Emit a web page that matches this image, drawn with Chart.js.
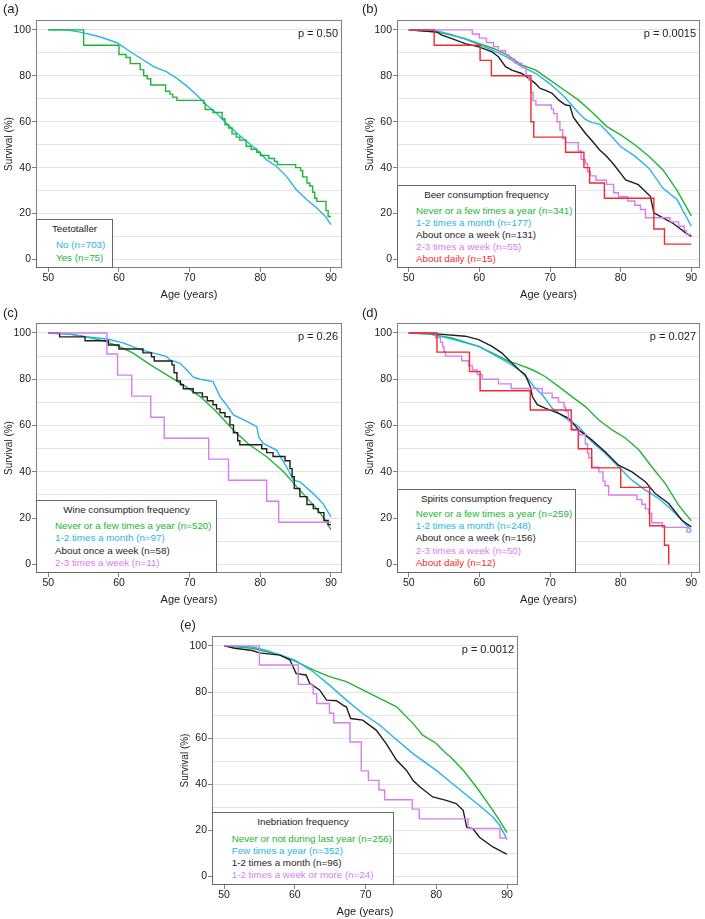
<!DOCTYPE html>
<html>
<head>
<meta charset="utf-8">
<script src="https://cdn.jsdelivr.net/npm/chart.js@4.4.1/dist/chart.umd.min.js"></script>
<style>
  body { margin: 0; background: #fff; width: 705px; height: 919px; position: relative; overflow: hidden;
         font-family: "Liberation Sans", Arial, sans-serif; color: #222; }
  canvas { position: absolute; }
  .tag { position: absolute; font-size: 13px; line-height: 15px; }
  .leg { position: absolute; background: #fff; border: 1px solid #666; box-sizing: border-box;
         font-size: 9.8px; line-height: 12px; }
  .leg div { position: absolute; white-space: nowrap; }
</style>
</head>
<body>
<script>
// axis ticks
const xTicks = [50, 60, 70, 80, 90];
const yGrid = [0, 10, 20, 30, 40, 50, 60, 70, 80, 90, 100];
const yLabels = [0, 20, 40, 60, 80, 100];

// (a) teetotaller
const aNo = [[50,100],[52.5,100],[54.5,99],[57.3,97],[59.7,94.4],[62,89.7],[63.4,87],[64.9,84],[66.7,81.8],[68.2,78.9],[69.6,75.5],[71,71.6],[72.4,67.3],[73.8,63.7],[75.2,59.3],[76.7,55],[78.1,51.4],[79.5,47.8],[80.9,43.4],[82.3,40.5],[83.7,36.2],[85.1,30.4],[86.6,26],[88,22.4],[89.2,18.8],[90,15.2]];
const aYes = [[50,100],[55,93.3],[60,89.3],[61,88],[61.6,85.3],[63,82.7],[63.5,80],[64,78.7],[64.5,76],[66.6,73.3],[67.2,72],[67.6,70.7],[68.2,69.3],[72,68],[72.2,65.3],[73.3,64],[74.6,61.3],[75,58.7],[75.5,57.3],[76,54.7],[76.6,53.3],[77.1,52],[78,49.3],[78.7,48],[79.5,46.7],[80,45.3],[81.2,44],[82,42.7],[82.4,41.3],[85,40],[85.7,38.7],[86,36],[86.6,33.3],[87,32],[87.4,29.3],[87.7,26.7],[88,25.3],[89.3,21.3],[89.6,18.7],[90,18.7]];
const aLabels = ['No (n=703)', 'Yes (n=75)'];

// (b) beer
const bNever = [[50,100],[54,99],[56,97.7],[58,96.2],[60,94],[62,91.9],[64,89],[66,84.7],[68,82.5],[70,78.1],[72,73.8],[74,69.5],[76,64],[78,58],[80,54.3],[82,50],[84,45],[86,39],[88,30],[90,19]];
const bMonth = [[50,100],[54,99.5],[56,98],[58,96],[60,93.5],[62,91],[64,88],[66,84],[68,81],[70,76.5],[72,71],[74,64],[75,61],[76,59.6],[77,59],[78,56],[80,49.2],[82,45],[84,39.8],[86,31],[88,26],[90,14.5]];
const bWeek = [[50,100],[54,99],[54.7,97.7],[56.1,96.2],[58,94],[59.9,92.6],[61.8,90.4],[62.7,88.3],[63.7,84],[64.6,82.5],[66,81],[67,78.9],[67.9,76.7],[68.6,74.5],[69.3,73.8],[70.3,72.4],[71.2,69.5],[72.2,67.3],[72.8,67],[73.3,62],[74,59],[75,55],[76,51.5],[77,47.8],[78,45],[79,41.5],[80,37.5],[80.7,34.7],[82.5,32.6],[84.2,27.5],[84.7,20.3],[85.6,18.8],[87.3,16],[89.2,11.6],[90,10.1]];
const bTimes = [[50,100],[59,98.2],[60,96.4],[61,94.5],[62,92.7],[62.7,90.9],[63.7,89.1],[64.2,87.3],[65,85.5],[66,83.6],[66.6,80],[67,78.2],[67.3,72.7],[67.6,69.1],[68,67.3],[70.2,65.5],[70.5,63.6],[71,60],[71.4,56.4],[71.8,52.7],[72.2,50.9],[74,47.3],[74.4,43.6],[75,41.8],[75.3,38.2],[75.7,36.4],[76.5,34.5],[78,32.7],[79,29.1],[79.7,27.3],[81,25.5],[82,23.6],[82.8,21.8],[83.5,18.2],[87,16.4],[88.2,14.5],[89,12.7],[89.3,10.9],[90,10.9]];
const bDaily = [[50,100],[53.6,93.3],[60.1,86.7],[61.7,80],[67.3,60],[67.7,53.3],[72.2,46.7],[74.8,40],[75.6,33.3],[77.7,26.7],[84.7,13.3],[86.2,6.7],[90,6.7]];
const bLabels = ['Never or a few times a year (n=341)', '1-2 times a month (n=177)', 'About once a week (n=131)', '2-3 times a week (n=55)', 'About daily (n=15)'];

// (c) wine
const cNever = [[50,100],[53,99.5],[55,98.5],[58,96.5],[60,94.2],[62,91.3],[64.4,86.3],[66.7,82],[69.1,77.6],[71.5,72.5],[73.8,66],[76.2,58],[78.5,51.6],[80.9,46.5],[83.3,40],[85.6,32],[88,24],[89,20],[90,15]];
const cMonth = [[50,100],[53,99.5],[55,98.5],[58.3,97.4],[60.6,95.7],[63,92.8],[64.9,91.3],[66.7,89.9],[67.2,88.4],[68.6,87],[69.6,84],[70.5,80.9],[71.5,80],[73.3,79],[74.3,72.5],[75.2,69],[76.2,64.6],[78.1,61.8],[79.5,59.5],[79.8,55],[80.4,52.3],[82.3,49.4],[83.7,42.2],[84.7,36.4],[85.6,35.7],[87.5,30.6],[88.9,26.3],[90,20.5]];
const cWeek = [[50,100],[51.6,98.3],[55.2,96.6],[58.5,94.8],[60,93.1],[63.4,91.4],[64.6,89.7],[65,87.9],[67.5,86.2],[67.8,82.8],[68.2,79.3],[68.7,77.6],[69.1,75.9],[70.5,74.1],[71.8,72.4],[72.5,70.7],[73.3,69],[73.8,67.2],[74.3,65.5],[75,63.8],[75.7,60.3],[76.2,56.9],[76.8,53.4],[77.1,51.7],[80.2,50],[80.9,48.3],[81.8,46.6],[83.5,44.8],[84.2,41.4],[84.5,37.9],[84.8,32.8],[85.6,29.3],[86.6,25.9],[87.5,24.1],[88.2,22.4],[89,19],[89.6,17.2],[90,17.2]];
const cTimes = [[50,100],[58.3,90.9],[59.8,81.8],[61.8,72.7],[64.5,63.6],[66.4,54.5],[72.7,45.5],[75.5,36.4],[80.9,27.3],[82.6,18.2],[90,18.2]];
const cLabels = ['Never or a few times a year (n=520)', '1-2 times a month (n=97)', 'About once a week (n=58)', '2-3 times a week (n=11)'];

// (d) spirits
const dNever = [[50,100],[53,99.5],[56.1,97.8],[59.9,94.2],[62.3,90.6],[64.2,87.7],[65.6,86.3],[67.5,84.1],[69.3,81.2],[71.2,76.9],[73.1,72.5],[75,68.2],[76.9,62.4],[78.8,58.1],[80.7,54.5],[82.6,49.4],[84.4,42.2],[86.3,35],[88.2,25.6],[90,18.8]];
const dMonth = [[50,100],[53,99.6],[56.1,97.4],[59.9,94.2],[62.3,90.2],[64.2,87],[65.6,84.1],[67,79.8],[67.7,76.9],[68.9,73.3],[70.3,67.5],[72.2,63.2],[74.1,59.5],[75.9,53],[77.8,48],[79.7,42.2],[81.6,36.4],[83.5,32.1],[85.4,28.5],[87.3,23.4],[88.7,19],[90,14.7]];
const dWeek = [[50,100],[53,99.8],[58,98.6],[59.9,97.1],[61.8,94.2],[63.2,91.3],[64.6,87],[65.6,84.1],[66.5,82],[67.2,76.9],[67.5,72.5],[68.2,69],[69.3,67.5],[71.2,65.3],[72.6,63.2],[74.1,58],[75.9,53.8],[77.8,48.7],[79.7,42.9],[81.6,40],[83.5,35.7],[84.9,30.6],[86.8,26.3],[88.7,19],[90,16.2]];
const dTimes = [[50,100],[53.8,98],[54.5,96],[54.8,94],[55,92],[55.2,90],[57.5,88],[58.5,86],[59,84],[59.7,82],[60.4,80],[62.7,78],[64.5,76],[68.9,74],[70.3,72],[71.2,70],[72,68],[72.2,66],[72.6,62],[73.1,58],[74.1,56],[75,52],[75.3,48],[75.5,46],[75.9,42],[76.9,40],[77.5,36],[77.8,34],[78.3,30],[82.3,28],[83,26],[83.5,24],[84,22],[84.4,18],[85.9,16],[89.4,14],[90,14]];
const dDaily = [[50,100],[54,91.7],[58.6,83.3],[60.1,75],[67.2,66.7],[73,58.3],[74,50],[75.9,41.7],[80,33.3],[84.1,16.7],[86.2,8.3],[86.8,0]];
const dLabels = ['Never or a few times a year (n=259)', '1-2 times a month (n=248)', 'About once a week (n=156)', '2-3 times a week (n=50)', 'About daily (n=12)'];

// (e) inebriation
const eNever = [[50,100],[54,99],[57.9,96.1],[60.2,93.2],[62.6,89.6],[64.9,86.7],[67.3,84.5],[69.6,80.9],[72,77.2],[74.4,73.6],[76.7,66.4],[78.1,61.3],[80,57.7],[81.4,53.3],[82,51.9],[84,45.4],[86,37.4],[88,28.7],[89,24],[90,19]];
const eFew = [[50,100],[54,99.5],[56,98],[58,96],[60,93.8],[62.6,88.8],[64.9,83],[67.3,76.5],[69.6,70.7],[72,65.7],[73.9,60.6],[76.7,53.3],[80,46],[82,41],[84,36],[86,31],[88,25.8],[89,22],[90,16]];
const eMonth = [[50,100],[51.5,99],[54,98],[55,97],[57.9,96],[59.3,94],[60.2,88],[61.6,87.4],[62.1,83.8],[63.5,80.9],[64.5,76.5],[65.9,76.2],[66.8,74.3],[67.3,73.5],[67.9,68.5],[69.6,67.8],[71.5,63.5],[72.9,57.7],[74.4,50.4],[75.8,46],[76.7,41.7],[77.7,38.8],[79.5,34.5],[81.4,33],[82.8,31.6],[83.8,28.7],[84.3,21.4],[85.2,20.7],[86.1,17],[88,12.8],[89.8,9.9],[90,9.7]];
const eWeek = [[50,100],[55,91.7],[60.5,83.3],[62.6,79.2],[63.1,75],[64.9,70.8],[65.5,66.7],[67.8,58.3],[69.4,45.8],[70.4,41.7],[71.9,37.5],[72.7,33.3],[76.6,29.2],[77.6,25],[84.5,20.8],[89,16.7],[90,16.7]];
const eLabels = ['Never or not during last year (n=256)', 'Few times a year (n=352)', '1-2 times a month (n=96)', '1-2 times a week or more (n=24)'];

const GREEN = '#22b534', CYAN = '#25b5e6', BLACK = '#1e1e1e', VIOLET = '#d87cf0', RED = '#f02b2b';

const panels = [
  { tag: '(a)', tagPos: [3, 0.5], plot: { l: 36, t: 20, r: 342, b: 268 }, xr: [48.26, 91.56], p: 'p = 0.50',
    legTitle: 'Teetotaller', box: { l: 36, t: 219, r: 113 }, itemLeft: 19, firstY: 25.3, lh: 13, labels: aLabels,
    series: [[aNo, CYAN, false], [aYes, GREEN, true]] },
  { tag: '(b)', tagPos: [362, 0.5], plot: { l: 397, t: 20, r: 700, b: 268 }, xr: [48.34, 91.23], p: 'p = 0.0015',
    legTitle: 'Beer consumption frequency', box: { l: 397, t: 185, r: 576 }, itemLeft: 18, firstY: 25, lh: 12.1, labels: bLabels,
    series: [[bNever, GREEN, false], [bMonth, CYAN, false], [bWeek, BLACK, false], [bTimes, VIOLET, true], [bDaily, RED, true]] },
  { tag: '(c)', tagPos: [3, 305], plot: { l: 36, t: 323, r: 342, b: 573 }, xr: [48.26, 91.56], p: 'p = 0.26',
    legTitle: 'Wine consumption frequency', box: { l: 36, t: 500, r: 217 }, itemLeft: 18, firstY: 25.3, lh: 12.1, labels: cLabels,
    series: [[cNever, GREEN, false], [cMonth, CYAN, false], [cWeek, BLACK, true], [cTimes, VIOLET, true]] },
  { tag: '(d)', tagPos: [362, 305], plot: { l: 397, t: 323, r: 700, b: 573 }, xr: [48.34, 91.23], p: 'p = 0.027',
    legTitle: 'Spirits consumption frequency', box: { l: 397, t: 489, r: 576 }, itemLeft: 17.7, firstY: 23.7, lh: 12.3, labels: dLabels,
    series: [[dNever, GREEN, false], [dMonth, CYAN, false], [dWeek, BLACK, false], [dTimes, VIOLET, true], [dDaily, RED, true]] },
  { tag: '(e)', tagPos: [180, 617], plot: { l: 212, t: 636, r: 518, b: 885 }, xr: [48.3, 91.55], p: 'p = 0.0012',
    legTitle: 'Inebriation frequency', box: { l: 212, t: 812, r: 394 }, itemLeft: 18.7, firstY: 26.3, lh: 12, labels: eLabels,
    series: [[eNever, GREEN, false], [eFew, CYAN, false], [eMonth, BLACK, false], [eWeek, VIOLET, true]] }
];

Chart.defaults.font.family = '"Liberation Sans", Arial, sans-serif';
Chart.defaults.color = '#222';

const framePlugin = {
  id: 'frame',
  beforeDatasetsDraw(chart) {
    const { ctx, chartArea: a } = chart;
    ctx.save();
    ctx.strokeStyle = '#808080';
    ctx.lineWidth = 1;
    ctx.strokeRect(Math.round(a.left) + 0.5, Math.round(a.top) + 0.5, Math.round(a.right - a.left) - 1, Math.round(a.bottom - a.top) - 1);
    ctx.restore();
  },
  afterDatasetsDraw(chart, args, opts) {
    const { ctx, chartArea: a, scales } = chart;
    ctx.save();
    ctx.font = '11px "Liberation Sans", Arial, sans-serif';
    ctx.fillStyle = '#222';
    ctx.textAlign = 'right';
    ctx.textBaseline = 'middle';
    ctx.fillText(opts.text, a.right - 4, scales.y.getPixelForValue(100) + 4.5);
    ctx.restore();
  }
};

panels.forEach((pn) => {
  const pl = pn.plot;
  const cv = document.createElement('canvas');
  const w = pl.r - pl.l + 36 + 5, h = pl.b - pl.t + 20 + 37;
  cv.width = w; cv.height = h;
  cv.style.left = (pl.l - 36) + 'px';
  cv.style.top = (pl.t - 20) + 'px';
  cv.style.width = w + 'px'; cv.style.height = h + 'px';
  document.body.appendChild(cv);

  const n = pn.series.length;
  new Chart(cv, {
    type: 'line',
    data: {
      datasets: pn.series.map(([pts, color, stepped], i) => ({
        label: pn.labels[i],
        data: pts.map(([x, y]) => ({ x, y })),
        borderColor: color,
        borderWidth: 1.4,
        pointRadius: 0,
        fill: false,
        stepped: stepped ? 'before' : false,
        order: n - i
      }))
    },
    options: {
      responsive: false,
      animation: false,
      devicePixelRatio: 1,
      layout: { padding: { left: 0, top: 20, right: 5, bottom: 0 } },
      plugins: { legend: { display: false }, tooltip: { enabled: false }, frame: { text: pn.p } },
      scales: {
        x: {
          type: 'linear', min: pn.xr[0], max: pn.xr[1],
          afterFit: (s) => { s.height = 37; },
          afterBuildTicks: (s) => { s.ticks = xTicks.map(v => ({ value: v })); },
          grid: { drawOnChartArea: false, drawTicks: true, tickLength: 4, tickColor: '#808080' },
          border: { display: false },
          ticks: { font: { size: 10.5 }, color: '#222', padding: 0, maxRotation: 0 },
          title: { display: true, text: 'Age (years)', font: { size: 11 }, color: '#222', padding: { top: 0, bottom: 3.4 } }
        },
        y: {
          min: -3.7, max: 104.3,
          afterFit: (s) => { s.width = 36; },
          afterBuildTicks: (s) => { s.ticks = yGrid.map(v => ({ value: v })); },
          grid: {
            color: '#e3e3e3', lineWidth: 1, tickLength: 4,
            tickColor: (c) => (c.tick && yLabels.includes(c.tick.value)) ? '#808080' : 'rgba(0,0,0,0)'
          },
          border: { display: false },
          ticks: { callback: (v) => yLabels.includes(v) ? String(v) : '', padding: 1, font: { size: 10.5 }, color: '#222' },
          title: { display: true, text: 'Survival (%)', font: { size: 10 }, color: '#222', padding: { top: 3 } }
        }
      }
    },
    plugins: [framePlugin]
  });

  // legend box
  const bx = pn.box;
  const leg = document.createElement('div');
  leg.className = 'leg';
  leg.style.left = bx.l + 'px';
  leg.style.top = bx.t + 'px';
  leg.style.width = (bx.r - bx.l) + 'px';
  leg.style.height = (pl.b - bx.t) + 'px';
  const tt = document.createElement('div');
  tt.textContent = pn.legTitle;
  tt.style.left = '0'; tt.style.width = '100%'; tt.style.textAlign = 'center';
  tt.style.top = (9 - 6) + 'px';
  leg.appendChild(tt);
  pn.labels.forEach((lab, i) => {
    const it = document.createElement('div');
    it.textContent = lab;
    it.style.left = pn.itemLeft + 'px';
    it.style.top = (pn.firstY + i * pn.lh - 6) + 'px';
    it.style.color = pn.series[i][1];
    leg.appendChild(it);
  });
  document.body.appendChild(leg);

  const tag = document.createElement('div');
  tag.className = 'tag';
  tag.textContent = pn.tag;
  tag.style.left = pn.tagPos[0] + 'px';
  tag.style.top = pn.tagPos[1] + 'px';
  document.body.appendChild(tag);
});
</script>
</body>
</html>
